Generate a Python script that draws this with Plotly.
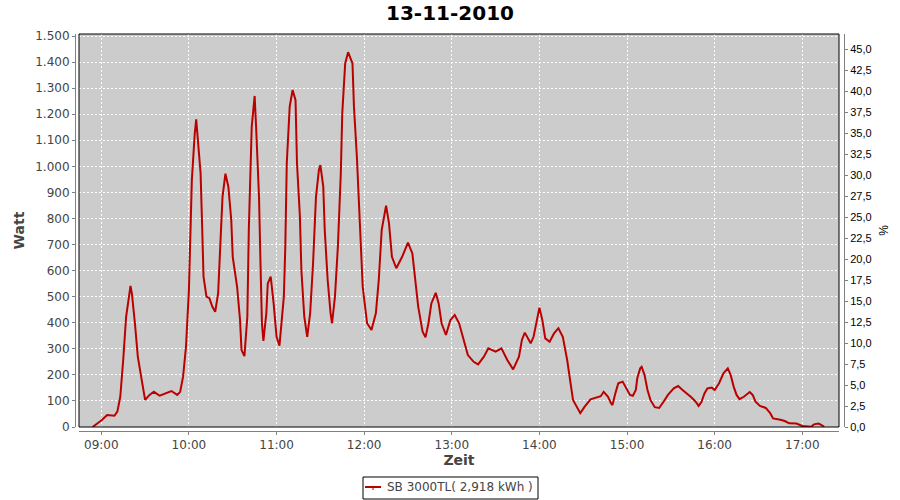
import plotly.graph_objects as go

DATE = "2010-11-13"

times = ["08:54", "08:57", "09:00", "09:04", "09:07", "09:09", "09:11", "09:13", "09:15", "09:17",
         "09:20", "09:21", "09:23", "09:25", "09:28", "09:30", "09:33", "09:36", "09:40", "09:45",
         "09:48", "09:52", "09:54", "09:56", "09:58", "10:00", "10:01", "10:02", "10:04", "10:05",
         "10:06", "10:08", "10:09", "10:10", "10:12", "10:14", "10:16", "10:18", "10:20", "10:21",
         "10:23", "10:25", "10:27", "10:29", "10:30", "10:33", "10:35", "10:36", "10:38", "10:40",
         "10:41", "10:43", "10:45", "10:46", "10:48", "10:49", "10:50", "10:51", "10:53", "10:54",
         "10:56", "10:58", "11:00", "11:02", "11:05", "11:06", "11:07", "11:09", "11:11", "11:13",
         "11:14", "11:16", "11:17", "11:19", "11:21", "11:23", "11:25", "11:27", "11:29", "11:30",
         "11:32", "11:33", "11:35", "11:37", "11:38", "11:40", "11:42", "11:44", "11:45", "11:47",
         "11:49", "11:52", "11:53", "11:55", "11:57", "11:59", "12:02", "12:04", "12:05", "12:08",
         "12:10", "12:12", "12:15", "12:17", "12:19", "12:22", "12:26", "12:30", "12:33", "12:35",
         "12:37", "12:40", "12:42", "12:44", "12:46", "12:49", "12:51", "12:53", "12:56", "12:59",
         "13:02", "13:05", "13:08", "13:11", "13:15", "13:18", "13:22", "13:25", "13:30", "13:34",
         "13:38", "13:42", "13:46", "13:48", "13:50", "13:54", "13:56", "13:58", "14:00", "14:02",
         "14:04", "14:07", "14:10", "14:13", "14:16", "14:19", "14:21", "14:23", "14:28", "14:31",
         "14:35", "14:38", "14:42", "14:44", "14:47", "14:49", "14:50", "14:52", "14:54", "14:57",
         "14:59", "15:02", "15:04", "15:06", "15:07", "15:09", "15:10", "15:12", "15:14", "15:16",
         "15:19", "15:22", "15:25", "15:28", "15:32", "15:35", "15:38", "15:41", "15:44", "15:47",
         "15:49", "15:51", "15:53", "15:55", "15:58", "16:00", "16:03", "16:06", "16:09", "16:11",
         "16:13", "16:15", "16:17", "16:20", "16:24", "16:26", "16:28", "16:31", "16:35", "16:38",
         "16:40", "16:45", "16:48", "16:51", "16:56", "17:00", "17:06", "17:08", "17:11", "17:13",
         "17:15"]

watts = [0, 12, 25, 46, 44, 43, 59, 116, 257, 423,
         541, 510, 399, 270, 169, 104, 123, 135, 120, 133,
         138, 123, 135, 193, 308, 526, 730, 947, 1127, 1180,
         1110, 973, 781, 577, 500, 494, 462, 442, 513, 653,
         883, 972, 922, 794, 653, 538, 410, 295, 272, 423,
         756, 1152, 1270, 1152, 883, 628, 398, 330, 436, 551,
         577, 474, 346, 312, 500, 692, 1012, 1229, 1293, 1254,
         1012, 807, 602, 423, 346, 436, 628, 883, 986, 1005,
         922, 756, 564, 436, 398, 500, 692, 973, 1203, 1395,
         1438, 1395, 1229, 1037, 781, 538, 398, 379, 372, 436,
         564, 756, 849, 781, 653, 609, 653, 707, 666, 564,
         462, 366, 344, 398, 474, 515, 474, 398, 353, 410,
         430, 398, 334, 276, 250, 240, 270, 302, 289, 302,
         257, 221, 270, 334, 362, 321, 346, 410, 458, 410,
         340, 327, 359, 379, 346, 257, 180, 104, 53, 78,
         106, 110, 118, 135, 116, 91, 84, 129, 168, 174,
         155, 123, 120, 142, 187, 225, 231, 199, 142, 104,
         76, 73, 97, 123, 148, 157, 142, 129, 114, 97,
         81, 97, 129, 148, 151, 142, 168, 206, 225, 199,
         155, 123, 107, 116, 134, 123, 97, 81, 73, 53,
         33, 28, 23, 14, 13, 4, 1, 10, 13, 8,
         1]

series_name = "SB 3000TL( 2,918 kWh )"
chart_title = "13-11-2010"
x_title = "Zeit"
y_title = "Watt"
y2_title = "%"

x_range = [f"{DATE} 08:44:44", f"{DATE} 17:25:08"]
y_range = [0, 1507.7]
y2_range = [0, 46.82]

line_color = "#bb0000"
xs = [f"{DATE} {t}" for t in times]

fig = go.Figure()
fig.add_trace(go.Scatter(
    x=xs, y=watts, mode="lines", name=series_name,
    line=dict(color=line_color, width=2),
    showlegend=False,
))
# empty trace to realize the secondary (percent) axis
fig.add_trace(go.Scatter(x=[], y=[], yaxis="y2", showlegend=False, hoverinfo="skip"))

axis_gray = "#808080"
tick_font = dict(family="DejaVu Sans", size=12, color="#444444")

# pixel -> paper helpers (margins l=75, b=69; paper 769 x 397 px)
def px(x):
    return (x - 75) / 769


def py(y):
    return (431 - y) / 397


legend_shapes = [
    dict(type="rect", xref="paper", yref="paper", x0=px(363), x1=px(538), y0=py(499), y1=py(477),
         line=dict(color="black", width=1), fillcolor="white", layer="above"),
    dict(type="line", xref="paper", yref="paper", x0=px(365), x1=px(381), y0=py(487), y1=py(487),
         line=dict(color=line_color, width=2), layer="above"),
    dict(type="line", xref="paper", yref="paper", x0=px(373), x1=px(373), y0=py(487), y1=py(490),
         line=dict(color=line_color, width=1), layer="above"),
]

fig.update_layout(
    width=900, height=500,
    margin=dict(l=75, r=56, t=34, b=69, pad=0, autoexpand=False),
    paper_bgcolor="white",
    plot_bgcolor="#cccccc",
    separators=",.",
    showlegend=False,
    title=dict(text=f"<b>{chart_title}</b>", x=0.5, xref="container", xanchor="center",
               y=1 - 13 / 500, yref="container", yanchor="middle",
               font=dict(family="DejaVu Sans", size=20, color="black")),
    xaxis=dict(
        type="date", range=x_range, domain=[4 / 769, 764 / 769],
        anchor="free", position=0, automargin=False,
        tickformat="%H:%M", dtick=3600000, tick0=f"{DATE} 09:00",
        showgrid=True, gridcolor="white", griddash="2px,2px", gridwidth=1,
        showline=True, linecolor=axis_gray, linewidth=1,
        ticks="outside", ticklen=3, tickcolor=axis_gray,
        tickfont=tick_font,
        title=dict(text=f"<b>{x_title}</b>", standoff=3,
                   font=dict(family="DejaVu Sans", size=14, color="#444444")),
        zeroline=False,
    ),
    yaxis=dict(
        range=y_range, domain=[4 / 397, 1],
        anchor="free", position=0, automargin=False,
        dtick=100, tick0=0, tickformat=",d",
        showgrid=True, gridcolor="white", griddash="2px,2px", gridwidth=1,
        showline=True, linecolor=axis_gray, linewidth=1,
        ticks="outside", ticklen=3, tickcolor=axis_gray,
        tickfont=tick_font,
        title=dict(text=f"<b>{y_title}</b>", standoff=6,
                   font=dict(family="DejaVu Sans", size=14, color="#444444")),
        zeroline=False,
    ),
    yaxis2=dict(
        range=y2_range, overlaying="y", side="right",
        anchor="free", position=1, automargin=False,
        dtick=2.5, tick0=0, tickformat=".1f",
        showgrid=False, zeroline=False,
        showline=True, linecolor=axis_gray, linewidth=1,
        ticks="outside", ticklen=3, tickcolor=axis_gray,
        tickfont=dict(family="Liberation Sans", size=11, color="black"),
        title=dict(text=y2_title, standoff=8,
                   font=dict(family="Liberation Sans", size=12, color="black")),
    ),
    shapes=[dict(type="rect", xref="x domain", yref="y domain", x0=0, x1=1, y0=0, y1=1,
                 line=dict(color="black", width=1), fillcolor="rgba(0,0,0,0)", layer="above")]
           + legend_shapes,
    annotations=[dict(text=series_name, xref="paper", yref="paper", x=px(385), y=py(487.5),
                      xanchor="left", yanchor="middle", showarrow=False,
                      font=dict(family="DejaVu Sans", size=12, color="#444444"))],
)

fig.write_html("out.html", config={"displayModeBar": False},
               post_script="document.body.style.margin='0';document.body.style.overflow='hidden';")
